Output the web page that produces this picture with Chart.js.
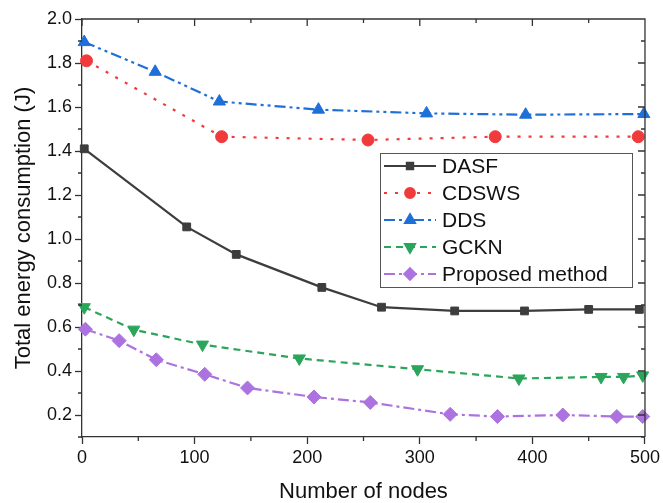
<!DOCTYPE html>
<html>
<head>
<meta charset="utf-8">
<script src="https://cdn.jsdelivr.net/npm/chart.js@4.4.1/dist/chart.umd.min.js"></script>
<style>
  html, body { margin: 0; padding: 0; background: #fff; }
  #wrap { width: 663px; height: 503px; }
</style>
</head>
<body>
<div id="wrap"><canvas id="energyChart"></canvas></div>
<script>
// Values
const xTicks = [0, 100, 200, 300, 400, 500];
const yTicks = [0.2, 0.4, 0.6, 0.8, 1.0, 1.2, 1.4, 1.6, 1.8, 2.0];

const dasfX = [2, 93, 137, 213, 266, 331, 393, 450, 495];
const dasfY = [1.41, 1.055, 0.93, 0.78, 0.69, 0.673, 0.673, 0.68, 0.68];

const cdswsX = [4, 124, 254, 367, 494];
const cdswsY = [1.81, 1.465, 1.45, 1.465, 1.465];

const ddsX = [2, 65, 122, 210, 306, 394, 499];
const ddsY = [1.895, 1.76, 1.625, 1.588, 1.571, 1.565, 1.568];

const gcknX = [2, 46, 107, 193, 298, 388, 461, 481, 498];
const gcknY = [0.69, 0.588, 0.52, 0.457, 0.408, 0.366, 0.373, 0.373, 0.38];

const propX = [3, 33, 66, 109, 147, 206, 256, 327, 369, 427, 475, 498];
const propY = [0.59, 0.538, 0.451, 0.385, 0.323, 0.282, 0.257, 0.203, 0.193, 0.2, 0.193, 0.193];

const FONT = "'Liberation Sans', Arial, sans-serif";

const toPoints = (xs, ys) => xs.map((x, i) => ({ x: x, y: ys[i] }));

function series(label, xs, ys, color, dash, style, radius, rotation) {
    return {
        label: label,
        data: toPoints(xs, ys),
        borderColor: color,
        backgroundColor: color,
        borderWidth: 2.2,
        borderDash: dash,
        pointStyle: style,
        pointRadius: radius,
        pointRotation: rotation || 0,
        pointBorderWidth: 1,
        tension: 0,
        clip: false
    };
}

// Minor ticks, mirrored frame ticks on top/right
const frameTicks = {
    id: 'frameTicks',
    afterDraw(chart) {
        const { ctx, chartArea: a, scales: { x, y } } = chart;
        ctx.save();
        ctx.strokeStyle = '#333';
        ctx.lineWidth = 1.3;
        ctx.beginPath();
        ctx.moveTo(a.left, a.top);
        ctx.lineTo(a.right, a.top);
        ctx.lineTo(a.right, a.bottom);
        for (let i = 0; i <= 10; i++) {
            const px = x.getPixelForValue(i * 50);
            const major = i % 2 === 0;
            ctx.moveTo(px, a.top);
            ctx.lineTo(px, a.top + (major ? 7 : 4));
            if (!major) {
                ctx.moveTo(px, a.bottom);
                ctx.lineTo(px, a.bottom + 4);
            }
        }
        for (let i = 1; i <= 20; i++) {
            const py = y.getPixelForValue(i / 10);
            const major = i % 2 === 0;
            ctx.moveTo(a.right, py);
            ctx.lineTo(a.right - (major ? 7 : 4), py);
            if (!major) {
                ctx.moveTo(a.left, py);
                ctx.lineTo(a.left - 4, py);
            }
        }
        ctx.stroke();
        ctx.restore();
    }
};

// Boxed legend inside the plot
const boxLegend = {
    id: 'boxLegend',
    afterDraw(chart, args, opts) {
        const ctx = chart.ctx;
        ctx.save();
        ctx.fillStyle = '#fff';
        ctx.fillRect(opts.left, opts.top, opts.width, opts.height);
        ctx.strokeStyle = '#555';
        ctx.lineWidth = 1;
        ctx.strokeRect(opts.left + 0.5, opts.top + 0.5, opts.width, opts.height);
        chart.data.datasets.forEach((ds, i) => {
            const cy = opts.top + opts.firstRow + i * opts.rowGap;
            ctx.strokeStyle = ds.borderColor;
            ctx.lineWidth = ds.borderWidth;
            ctx.setLineDash(ds.borderDash);
            ctx.beginPath();
            ctx.moveTo(opts.left + 4, cy);
            ctx.lineTo(opts.left + 56, cy);
            ctx.stroke();
            ctx.setLineDash([]);
            ctx.fillStyle = ds.backgroundColor;
            Chart.helpers.drawPoint(ctx, {
                pointStyle: ds.pointStyle,
                radius: ds.pointRadius * 0.8,
                rotation: ds.pointRotation,
                borderWidth: 1
            }, opts.left + 30, cy);
            ctx.fillStyle = '#111';
            ctx.font = '21px ' + FONT;
            ctx.textBaseline = 'middle';
            ctx.fillText(ds.label, opts.left + 62, cy + 1);
        });
        ctx.restore();
    }
};

const ctx = document.getElementById('energyChart').getContext('2d');
const energyChart = new Chart(ctx, {
    type: 'line',
    data: {
        datasets: [
            series('DASF', dasfX, dasfY, '#3d3d3d', [], 'rect', 5.5),
            series('CDSWS', cdswsX, cdswsY, '#f03a3c', [3, 8], 'circle', 6),
            series('DDS', ddsX, ddsY, '#1f6fd8', [11, 4, 3, 4, 3, 4], 'triangle', 7),
            series('GCKN', gcknX, gcknY, '#2ba55b', [7, 5], 'triangle', 7, 180),
            series('Proposed method', propX, propY, '#ab72e0', [11, 4, 3, 4], 'rectRot', 7)
        ]
    },
    options: {
        responsive: true,
        maintainAspectRatio: false,
        animation: false,
        layout: { padding: { top: 19, right: 16, left: 0, bottom: 0 } },
        plugins: {
            legend: { display: false },
            tooltip: { enabled: false },
            boxLegend: { left: 380, top: 153, width: 252, height: 134, firstRow: 13, rowGap: 27 }
        },
        scales: {
            x: {
                type: 'linear',
                min: 0,
                max: 500,
                afterBuildTicks: (s) => { s.ticks = xTicks.map(v => ({ value: v })); },
                afterFit: (s) => { s.height = 66; },
                grid: { drawOnChartArea: false, tickLength: 7, tickColor: '#333', tickWidth: 1.3 },
                border: { color: '#333', width: 1.3 },
                ticks: { color: '#111', font: { family: FONT, size: 18 }, padding: 3, maxRotation: 0 },
                title: { display: true, text: 'Number of nodes', color: '#111', font: { family: FONT, size: 22 }, padding: { top: 4, bottom: -2 } }
            },
            y: {
                type: 'linear',
                min: 0.1,
                max: 2.0,
                afterBuildTicks: (s) => { s.ticks = yTicks.map(v => ({ value: v })); },
                afterFit: (s) => { s.width = 82; },
                grid: { drawOnChartArea: false, tickLength: 7, tickColor: '#333', tickWidth: 1.3 },
                border: { color: '#333', width: 1.3 },
                ticks: { color: '#111', font: { family: FONT, size: 18 }, padding: 3, callback: (v) => v.toFixed(1) },
                title: { display: true, text: 'Total energy consumption (J)', color: '#111', font: { family: FONT, size: 22 }, padding: { top: 11, bottom: 0 } }
            }
        }
    },
    plugins: [frameTicks, boxLegend]
});
</script>
</body>
</html>
